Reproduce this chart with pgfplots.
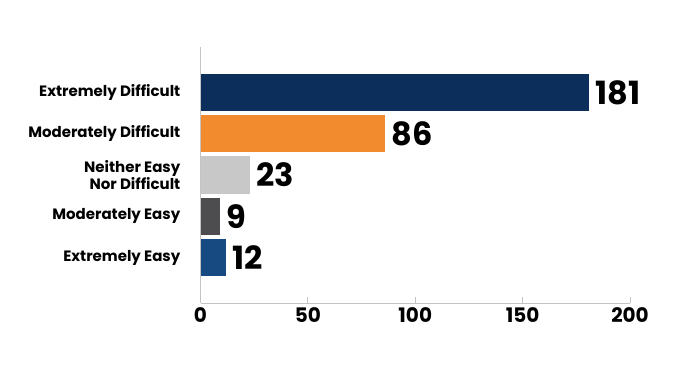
\documentclass[border=0pt]{standalone}
\usepackage{pgfplots}
\pgfplotsset{compat=1.18}
\usepackage{fontspec}
\setmainfont{Poppins}
\definecolor{navy}{HTML}{0B2F5A}
\definecolor{orng}{HTML}{F28A2E}
\definecolor{lgray}{HTML}{C8C8C9}
\definecolor{dgray}{HTML}{4D4D4F}
\definecolor{blu}{HTML}{164A80}
\definecolor{axisgray}{HTML}{C4C4C4}
\begin{document}
\begin{tikzpicture}
\useasboundingbox (0,0) rectangle (690pt,365pt);
\begin{axis}[
  at={(200.5pt,62pt)}, anchor=south west,
  scale only axis, width=429.5pt, height=256pt,
  xmin=0, xmax=200, ymin=-1.1, ymax=5.1,
  xbar, bar width=0.9, bar shift=0pt,
  axis x line*=bottom, axis y line*=left,
  axis line style={draw=axisgray, line width=1pt},
  xtick={0,50,100,150,200}, ytick={0,1,2,3,4},
  yticklabels={Extremely Easy, Moderately Easy, {Neither Easy\\Nor Difficult}, Moderately Difficult, Extremely Difficult},
  tick align=inside,
  yticklabel style={align=right, font=\fontsize{15}{15.5}\selectfont\bfseries, inner sep=0pt, anchor=east, xshift=-20pt},
  y tick style={draw=none},
  x tick style={draw=axisgray, line width=1pt},
  major tick length=6pt,
  xticklabel style={font=\fontsize{20}{20}\selectfont\bfseries, inner sep=0pt, anchor=base, yshift=-19.5pt},
  /pgf/number format/assume math mode=true,
  nodes near coords,
  nodes near coords style={anchor=west, font=\fontsize{32}{32}\selectfont\bfseries, xshift=5pt, inner sep=1pt},
  every axis plot/.append style={draw=none},
  clip=false,
]
\addplot[fill=blu] coordinates {(12,0)};
\addplot[fill=dgray] coordinates {(9,1)};
\addplot[fill=lgray] coordinates {(23,2)};
\addplot[fill=orng] coordinates {(86,3)};
\addplot[fill=navy] coordinates {(181,4)};
\end{axis}
\end{tikzpicture}
\end{document}
